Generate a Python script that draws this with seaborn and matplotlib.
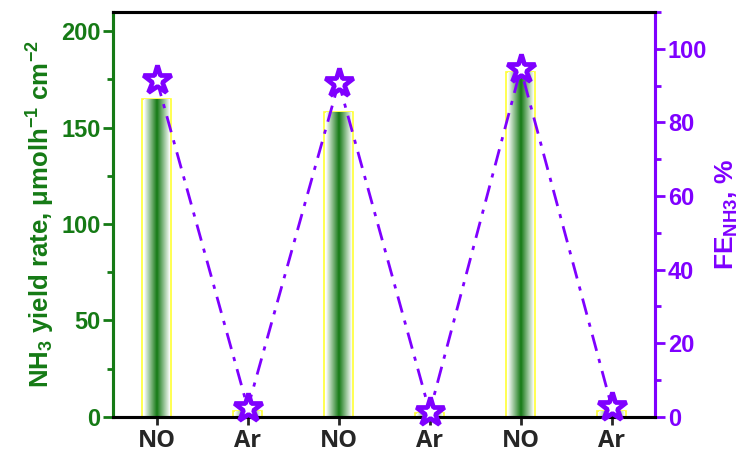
import numpy as np
import pandas as pd
import matplotlib
matplotlib.use("Agg")
import matplotlib.pyplot as plt
from matplotlib.colors import LinearSegmentedColormap
from matplotlib.ticker import MultipleLocator
import seaborn as sns

categories = ["NO", "Ar", "NO", "Ar", "NO", "Ar"]
yield_rate = [165, 3, 158, 2, 179, 3]
fe_values = [91.5, 2.4, 90.8, 1.3, 94.5, 2.7]

GREEN = "#157a15"
PURPLE = "#7f00ff"

sns.set_style("white")
plt.rcParams["font.family"] = ["Liberation Sans", "DejaVu Sans"]
plt.rcParams["mathtext.fontset"] = "custom"
plt.rcParams["mathtext.rm"] = "Liberation Sans:bold"
plt.rcParams["mathtext.it"] = "Liberation Sans:bold"
plt.rcParams["mathtext.bf"] = "Liberation Sans:bold"

df = pd.DataFrame({"pos": [str(i) for i in range(len(categories))],
                   "cat": categories, "yield": yield_rate, "fe": fe_values})

fig = plt.figure(figsize=(7.49, 4.59), dpi=100)
ax = fig.add_axes([0.151, 0.092, 0.724, 0.882])
sns.barplot(data=df, x="pos", y="yield", ax=ax, width=0.32,
            color="white", edgecolor="#ffff33", linewidth=1.2, zorder=2)

cmap = LinearSegmentedColormap.from_list("g", ["#ffffff", GREEN, "#ffffff"])
grad = np.linspace(0, 1, 256).reshape(1, -1)
for patch in ax.patches:
    x0, w, h = patch.get_x(), patch.get_width(), patch.get_height()
    inset = w * 0.06
    im = ax.imshow(grad, cmap=cmap, aspect="auto",
                   extent=[x0 + inset, x0 + w - inset, 0, h], zorder=2.5)
    im.set_clip_path(patch)

ax.set_xlim(-0.48, 5.48)
ax.set_ylim(0, 210)
ax.set_xticks(range(len(categories)))
ax.set_xticklabels(categories, fontsize=17, fontweight="bold",
                   family=["Open Sans", "DejaVu Sans"])
ax.set_xlabel("")
ax.set_ylabel("NH$_3$ yield rate, μmolh$^{-1}$ cm$^{-2}$", color=GREEN,
              fontsize=18.5, fontweight="bold", labelpad=3)
ax.yaxis.set_major_locator(MultipleLocator(50))
ax.yaxis.set_minor_locator(MultipleLocator(25))
ax.tick_params(axis="y", which="both", direction="out", colors=GREEN,
               width=2, labelsize=17, left=True, pad=2)
ax.tick_params(axis="y", which="major", length=7)
ax.tick_params(axis="y", which="minor", length=4)
ax.tick_params(axis="x", direction="out", length=6, width=2, bottom=True, pad=3)
for lab in ax.get_yticklabels():
    lab.set_fontweight("bold")

ax2 = ax.twinx()
sns.lineplot(x=list(range(len(categories))), y=fe_values, ax=ax2, color=PURPLE,
             linestyle=(0, (6, 3, 1.5, 3)), linewidth=2, zorder=3)
ax2.plot(range(len(categories)), fe_values, linestyle="none", marker="*",
         markersize=21, markerfacecolor="white", markeredgecolor=PURPLE,
         markeredgewidth=3.4, zorder=4, clip_on=False)
ax2.set_ylim(0, 110)
ax2.set_xlim(-0.48, 5.48)
ax2.yaxis.set_major_locator(MultipleLocator(20))
ax2.yaxis.set_minor_locator(MultipleLocator(10))
ax2.tick_params(axis="y", which="both", direction="out", colors=PURPLE,
                width=2, labelsize=17, right=True, pad=2)
ax2.tick_params(axis="y", which="major", length=7)
ax2.tick_params(axis="y", which="minor", length=4)
for lab in ax2.get_yticklabels():
    lab.set_fontweight("bold")
ax2.set_ylabel("FE$_{NH3}$, %", color=PURPLE, fontsize=19,
               fontweight="bold", rotation=90, labelpad=5)

for a in (ax, ax2):
    for s in a.spines.values():
        s.set_linewidth(2.2)
        s.set_color("black")
ax.spines["left"].set_color(GREEN)
ax2.spines["left"].set_color(GREEN)
ax2.spines["right"].set_color(PURPLE)
ax.spines["right"].set_color(PURPLE)

fig.savefig("out.png", dpi=100)
